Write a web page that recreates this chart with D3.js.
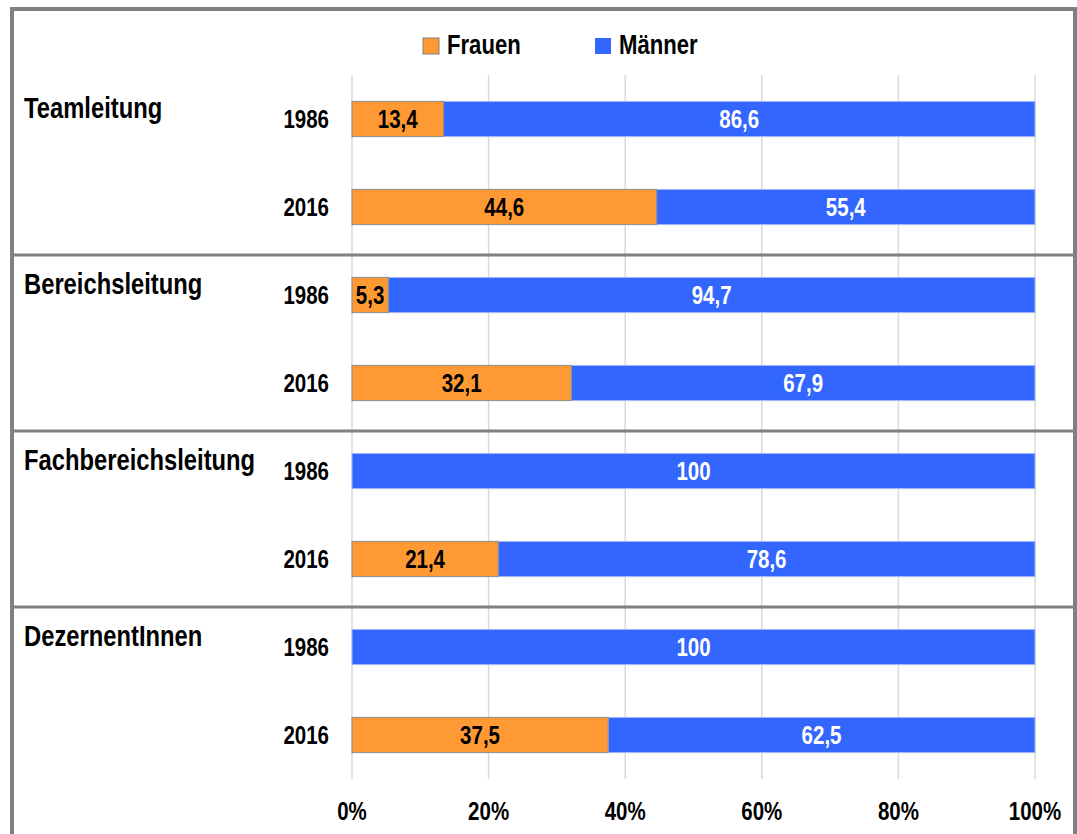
<!DOCTYPE html>
<html>
<head>
<meta charset="utf-8">
<script src="https://cdn.jsdelivr.net/npm/d3@7"></script>
<style>
  body { margin: 0; background: #fff; }
  text { font-family: 'Liberation Sans', Arial, sans-serif; font-weight: bold; }
</style>
</head>
<body>
<div id="chart"></div>
<script>
// data
var categories = ["Teamleitung", "Bereichsleitung", "Fachbereichsleitung", "DezernentInnen"];
var years = ["1986", "2016"];
var frauen = [13.4, 44.6, 5.3, 32.1, 0, 21.4, 0, 37.5];
var maenner = [86.6, 55.4, 94.7, 67.9, 100, 78.6, 100, 62.5];
var ticks = [0, 20, 40, 60, 80, 100];
var seriesNames = ["Frauen", "Männer"];
var colors = ["#ff9933", "#3366ff"];

var width = 1077;
var height = 834;
var narrow = 0.82; // no Arial Narrow here, so squeeze the regular bold face

// one row per category/year pair
var rows = [];
categories.forEach(function(c, i) {
  years.forEach(function(y, j) {
    var k = i * years.length + j;
    rows.push({ key: c + "|" + y, cat: c, year: y, f: frauen[k], m: maenner[k] });
  });
});

var locale = d3.formatLocale({ decimal: ",", thousands: ".", grouping: [3], currency: ["", "€"] });
var fmt = locale.format(".1~f");

var x = d3.scaleLinear().domain([0, 100]).range([352, 1035]);
var y = d3.scaleBand()
  .domain(rows.map(r => r.key))
  .range([75, 779])
  .paddingInner(0.6)
  .paddingOuter(0.3);

var svg = d3.select('#chart')
  .append('svg')
  .attr('width', width)
  .attr('height', height);

// place a text at px,py squeezed horizontally
function pos(px, py) {
  return 'translate(' + px + ',' + py + ') scale(' + narrow + ',1)';
}

// gridlines
svg.append('g')
  .selectAll('line')
  .data(ticks)
  .enter().append('line')
    .attr('x1', d => x(d)).attr('x2', d => x(d))
    .attr('y1', 75).attr('y2', 779)
    .attr('stroke', '#d9d9d9')
    .attr('stroke-width', 1.5);

// bars
var bars = svg.append('g');
bars.selectAll('rect.m')
  .data(rows)
  .enter().append('rect')
    .attr('class', 'm')
    .attr('x', d => x(d.f))
    .attr('y', d => y(d.key))
    .attr('width', d => x(d.f + d.m) - x(d.f))
    .attr('height', y.bandwidth())
    .attr('fill', colors[1])
    .attr('stroke', '#a9b9f5')
    .attr('stroke-width', 1);

bars.selectAll('rect.f')
  .data(rows.filter(r => r.f > 0))
  .enter().append('rect')
    .attr('class', 'f')
    .attr('x', x(0))
    .attr('y', d => y(d.key))
    .attr('width', d => x(d.f) - x(0))
    .attr('height', y.bandwidth())
    .attr('fill', colors[0])
    .attr('stroke', '#8c8c8c')
    .attr('stroke-width', 1);

// value labels
bars.selectAll('text.f')
  .data(rows.filter(r => r.f > 0))
  .enter().append('text')
    .attr('transform', d => pos((x(0) + x(d.f)) / 2, y(d.key) + y.bandwidth() / 2 + 9))
    .attr('text-anchor', 'middle')
    .attr('font-size', 25)
    .attr('fill', '#000')
    .text(d => fmt(d.f));

bars.selectAll('text.m')
  .data(rows)
  .enter().append('text')
    .attr('transform', d => pos((x(d.f) + x(d.f + d.m)) / 2, y(d.key) + y.bandwidth() / 2 + 9))
    .attr('text-anchor', 'middle')
    .attr('font-size', 25)
    .attr('fill', '#fff')
    .text(d => fmt(d.m));

// year labels
svg.append('g')
  .selectAll('text')
  .data(rows)
  .enter().append('text')
    .attr('transform', d => pos(329, y(d.key) + y.bandwidth() / 2 + 9))
    .attr('text-anchor', 'end')
    .attr('font-size', 25)
    .text(d => d.year);

// category labels
svg.append('g')
  .selectAll('text')
  .data(categories)
  .enter().append('text')
    .attr('transform', d => pos(24, y(d + "|" + years[0]) + y.bandwidth() / 2 - 1))
    .attr('font-size', 29)
    .text(d => d);

// x axis labels
svg.append('g')
  .selectAll('text')
  .data(ticks)
  .enter().append('text')
    .attr('transform', d => pos(x(d), 820))
    .attr('text-anchor', 'middle')
    .attr('font-size', 25)
    .text(d => d + "%");

// separators between groups
var seps = categories.slice(1).map(function(c, i) {
  var prev = y(categories[i] + "|" + years[1]) + y.bandwidth();
  var next = y(c + "|" + years[0]);
  return (prev + next) / 2 + 4;
});
svg.append('g')
  .selectAll('line')
  .data(seps)
  .enter().append('line')
    .attr('x1', 12).attr('x2', 1075)
    .attr('y1', d => d).attr('y2', d => d)
    .attr('stroke', '#808080')
    .attr('stroke-width', 3);

// outer frame
svg.append('rect')
  .attr('x', 12).attr('y', 9)
  .attr('width', 1063).attr('height', 840)
  .attr('fill', 'none')
  .attr('stroke', '#808080')
  .attr('stroke-width', 4);

// legend
var legendX = [423, 595];
var legend = svg.append('g')
  .selectAll('g')
  .data(seriesNames)
  .enter().append('g')
    .attr('transform', (d, i) => 'translate(' + legendX[i] + ',38)');
legend.append('rect')
  .attr('width', 16).attr('height', 16)
  .attr('fill', (d, i) => colors[i])
  .attr('stroke', (d, i) => i === 0 ? '#808080' : 'none');
legend.append('text')
  .attr('transform', pos(24, 16))
  .attr('font-size', 27)
  .text(d => d);
</script>
</body>
</html>
